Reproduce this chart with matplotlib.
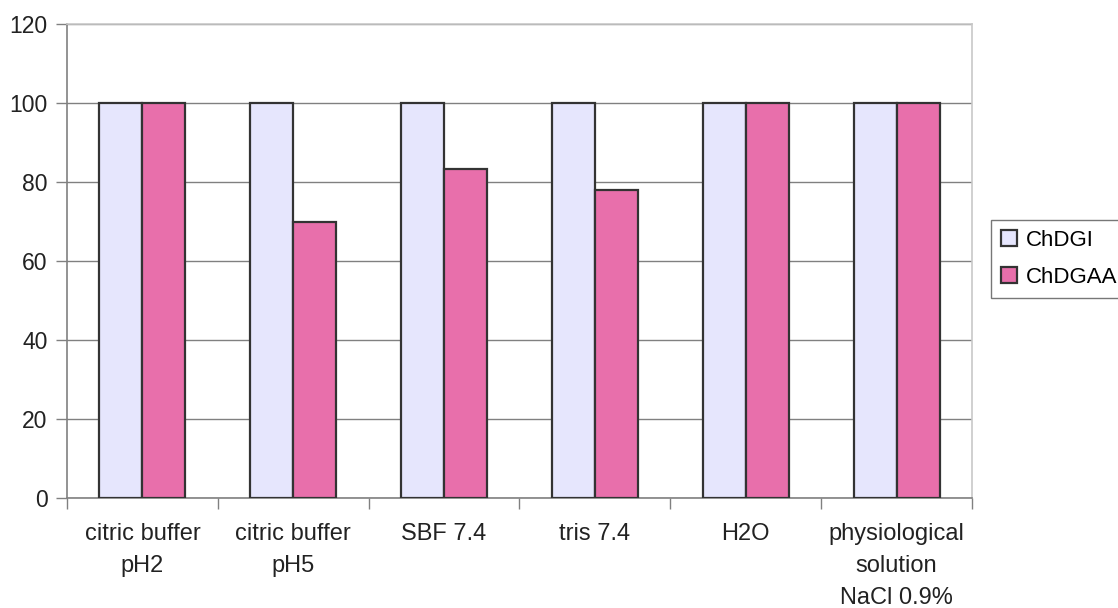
import numpy as np
import matplotlib.pyplot as plt

plt.rcParams['font.family'] = ['Liberation Sans', 'DejaVu Sans']

categories = ["citric buffer\npH2", "citric buffer\npH5", "SBF 7.4", "tris 7.4",
              "H2O", "physiological\nsolution\nNaCl 0.9%"]
chdgi = [100, 100, 100, 100, 100, 100]
chdgaa = [100, 70, 83.3, 78, 100, 100]

fig = plt.figure(figsize=(11.18, 6.08), dpi=100)
ax = fig.add_axes([67/1118, 1-498/608, (972-67)/1118, (498-24)/608])

x = np.arange(len(categories))
w = 0.285
ax.bar(x - w/2, chdgi, w, color="#e6e6fd", edgecolor="#333333", linewidth=1.6,
       label="ChDGI", zorder=3)
ax.bar(x + w/2, chdgaa, w, color="#e86fab", edgecolor="#333333", linewidth=1.6,
       label="ChDGAA", zorder=3)

ax.set_xlim(-0.5, len(categories) - 0.5)
ax.set_ylim(0, 120)
ax.set_yticks(range(0, 121, 20))
ax.yaxis.grid(True, color="#808080", linewidth=1.0, zorder=0)

ax.set_xticks(x)
ax.set_xticklabels(categories, fontsize=17, color="#222222", linespacing=1.6)
ax.set_xticks(np.arange(-0.5, len(categories)), minor=True)
ax.tick_params(axis="x", which="major", length=0, pad=18)
ax.tick_params(axis="x", which="minor", length=8, color="#808080", width=1)
ax.tick_params(axis="y", length=8, color="#808080", width=1, labelsize=16.5,
               labelcolor="#222222", pad=6)

for s in ["left", "bottom"]:
    ax.spines[s].set_color("#808080")
    ax.spines[s].set_linewidth(1.2)
for s in ["top", "right"]:
    ax.spines[s].set_color("#c8c8c8")
    ax.spines[s].set_linewidth(1.2)

leg = fig.legend(loc="upper left", bbox_to_anchor=(991/1118, 1-220/608),
                 fontsize=16, frameon=True, fancybox=False, edgecolor="#555555",
                 handlelength=0.7, handleheight=0.7, handletextpad=0.4,
                 borderpad=0.45, labelspacing=0.7, borderaxespad=0)
leg.get_frame().set_linewidth(1.0)

fig.savefig("out.png", dpi=100)
